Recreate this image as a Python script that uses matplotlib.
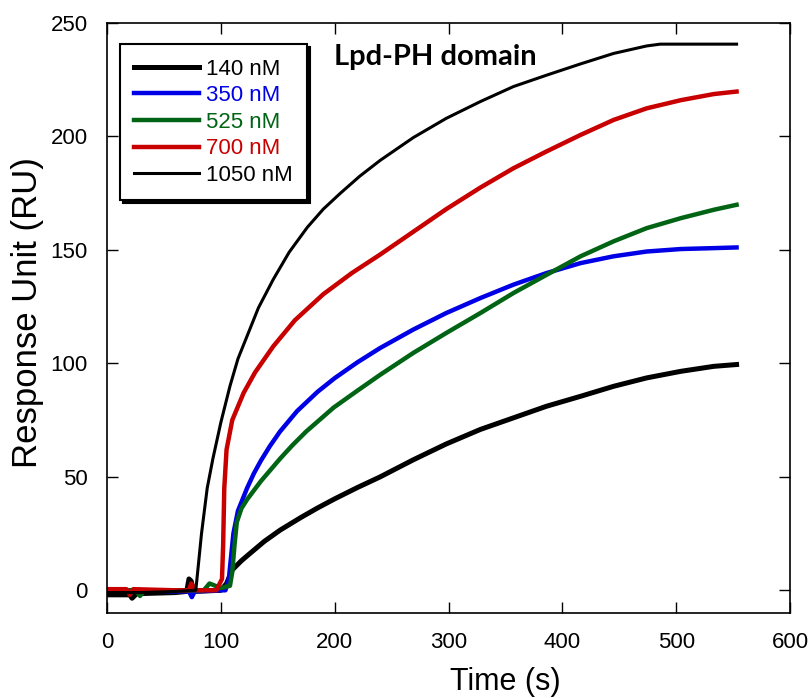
import matplotlib
matplotlib.use("Agg")
import matplotlib.pyplot as plt

# sensorgram traces (time in s, response in RU)
t_140 = [0, 20, 22, 26, 60, 70, 72, 74, 76, 100, 105, 110, 118, 125, 138, 152, 170, 185,
         200, 220, 240, 269, 298, 328, 357, 386, 416, 445, 474, 504, 533, 553]
ru_140 = [-2, -2, -3.5, -1.5, -1, -0.5, 5, 4, -0.5, 0, 3, 9, 13, 16, 21.5, 26.5, 32, 36.3,
          40.3, 45.3, 50, 57.5, 64.5, 70.9, 76, 81.1, 85.5, 89.9, 93.6, 96.5, 98.7, 99.5]

t_350 = [0, 30, 60, 72, 74.5, 77, 100, 104, 107, 109, 111, 115, 119, 123, 129, 135, 143,
         152, 167, 185, 200, 220, 240, 269, 298, 328, 357, 386, 416, 445, 474, 504, 533, 553]
ru_350 = [0, 0, -0.5, -0.5, -3, -0.5, 0, 0, 5, 15, 25, 35, 40, 45, 51.5, 57, 63.5,
          70, 79, 87.5, 93.5, 100.5, 106.8, 114.9, 122.2, 128.8, 134.7, 139.8, 144.2, 147.2,
          149.3, 150.4, 150.8, 151.1]

t_525 = [0, 25, 29, 33, 60, 85, 90, 100, 108, 110, 112, 114, 118, 123, 135, 152, 163, 175,
         199, 220, 240, 269, 298, 328, 357, 386, 416, 445, 474, 504, 533, 553]
ru_525 = [0, 0, -2.5, 0, 0, 0, 3, 1, 2, 8, 20, 30, 36, 40, 48, 58, 64, 70,
          80.5, 88, 95, 104.6, 113.4, 122.2, 131, 139, 147.2, 153.8, 159.6, 164, 167.7, 169.9]

t_700 = [0, 17, 20, 23, 60, 72, 74, 78, 96, 99, 101, 102, 103, 105, 110, 120, 130, 146,
         165, 190, 215, 240, 269, 298, 328, 357, 386, 416, 445, 474, 504, 533, 553]
ru_700 = [0.5, 0.5, -2, 0.5, 0, 0, 3, 0, 0, 3, 5, 20, 45, 62, 75, 87, 96, 107.5,
          119, 130.5, 139.8, 148, 158, 168, 177.5, 186, 193.4, 200.7, 207.3, 212.4,
          216, 218.7, 219.8]

t_1050 = [0, 30, 60, 78, 80, 83, 88, 93, 100, 108, 115, 123, 133, 146, 160, 176, 190, 205,
          222, 240, 269, 298, 328, 357, 386, 416, 445, 474, 486, 553]
ru_1050 = [-1, -1, -0.5, 0, 10, 25, 45, 58, 74, 90, 102, 112, 124.5, 137, 149, 160, 168,
           175, 182.5, 189.5, 199.5, 208, 215.4, 222, 227, 232, 236.6, 239.9, 240.7, 240.7]

labels = ['140 nM', '350 nM', '525 nM', '700 nM', '1050 nM']
colors = ['#000000', '#0000E6', '#006414', '#C80000', '#000000']
widths = [3.6, 3.2, 3.2, 3.2, 2.2]

plt.rcParams['font.family'] = ['Liberation Sans', 'DejaVu Sans']

fig = plt.figure(figsize=(8.12, 6.98), dpi=100)
ax = fig.add_axes([0.1318, 0.1218, 0.8412, 0.8452])

series = [(t_140, ru_140), (t_350, ru_350), (t_525, ru_525), (t_700, ru_700), (t_1050, ru_1050)]
for (t, ru), lab, c, w in zip(series, labels, colors, widths):
    ax.plot(t, ru, color=c, lw=w, label=lab, solid_joinstyle='round')

ax.set_xlim(0, 600)
ax.set_ylim(-10, 250)
ax.set_xticks(range(0, 601, 100))
ax.set_yticks(range(0, 251, 50))
ax.tick_params(direction='in', length=8, width=1, top=True, right=True,
               labelsize=16, pad=14)
for sp in ax.spines.values():
    sp.set_linewidth(1.2)

ax.set_xlabel('Time (s)', fontsize=22)
ax.xaxis.set_label_coords(0.583, -0.092)
ax.set_ylabel('Response Unit (RU)', fontsize=25, va='center')
ax.yaxis.set_label_coords(-0.116, 0.51)

ax.text(199, 235, 'Lpd-PH domain', fontsize=21, fontweight='bold',
        family=['Lato', 'DejaVu Sans'], va='center', ha='left')

leg = ax.legend(loc='upper left', bbox_to_anchor=(0.019, 0.964), borderaxespad=0,
                fontsize=16, handlelength=2.9, handletextpad=0.3, labelspacing=0.25,
                borderpad=0.65, fancybox=False, edgecolor='black', framealpha=1,
                shadow={'color': 'black', 'alpha': 1})
leg.get_frame().set_linewidth(1.5)
for txt, c in zip(leg.get_texts(), colors):
    txt.set_color(c)

fig.savefig('out.png', dpi=100)
